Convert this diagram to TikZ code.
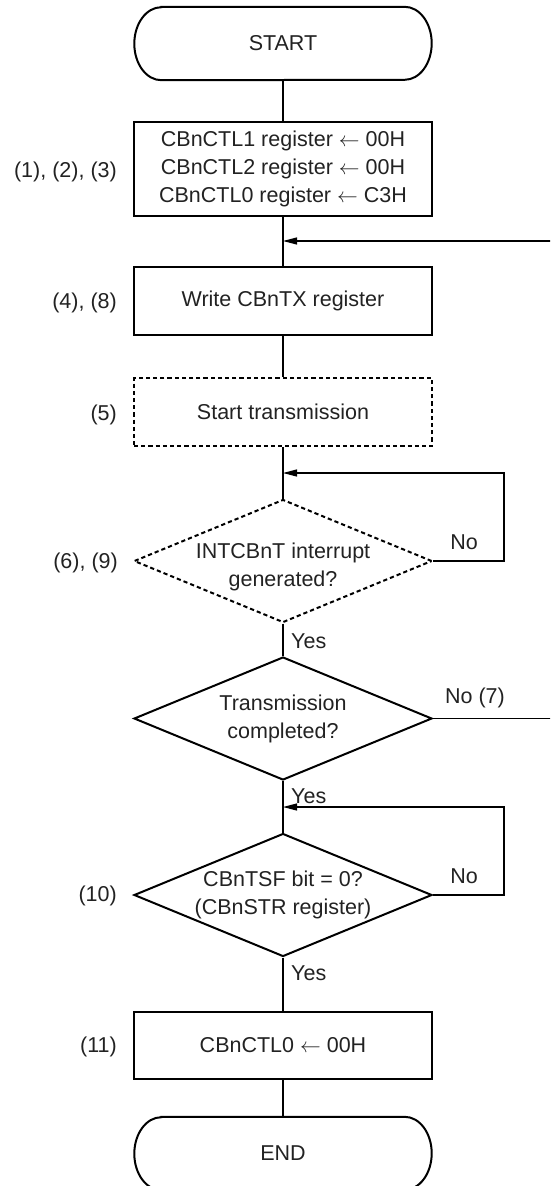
\documentclass[tikz,border=0pt]{standalone}
\usepackage{fontspec}
\setmainfont{Liberation Sans}
\usetikzlibrary{shapes.geometric,arrows.meta,calc}
\definecolor{ink}{HTML}{222222}
\begin{document}
\begin{tikzpicture}[x=1pt,y=-1pt,
  every node/.style={font=\fontsize{21.5}{28}\selectfont, text=ink},
  box/.style={draw=black, line width=2pt, rectangle, minimum width=298pt, minimum height=68pt, inner sep=0pt, align=center},
  dbox/.style={box, dash pattern=on 4.2pt off 3pt, line width=2pt},
  dec/.style={draw=black, diamond, line width=2pt, minimum width=298pt, minimum height=123pt, aspect=2.42, inner sep=0pt, align=center},
  ddec/.style={dec, dash pattern=on 4.2pt off 3pt, line width=2pt},
  term/.style={minimum width=297pt, minimum height=73pt, inner sep=0pt},
  termline/.style={line width=2pt},
  lab/.style={anchor=east, inner sep=0pt},
  yeslab/.style={anchor=west, inner sep=0pt},
  conn/.style={line width=1.2pt},
  arr/.style={conn, -{Triangle[length=14pt,width=7pt]}},
]
\useasboundingbox (0,0) rectangle (550,1186);
\clip (0,0) rectangle (550,1186);

% nodes
\node[term] (start) at (283,43.5) {START};
\node[box, minimum height=94pt] (b1) at (283,169) {CBnCTL1 register $\leftarrow$ 00H\\CBnCTL2 register $\leftarrow$ 00H\\CBnCTL0 register $\leftarrow$ C3H};
\node[box] (wr) at (283,301) {Write CBnTX register};
\node[dbox] (st) at (283,412) {Start transmission};
\node[ddec] (d1) at (283,561) {};
\node[align=center, inner sep=0pt] (d1t) at (283,567) {INTCBnT interrupt\\generated?};
\node[dec] (d2) at (283,718.5) {Transmission\\completed?};
\node[dec] (d3) at (283,895) {CBnTSF bit = 0?\\(CBnSTR register)};
\node[box, minimum height=67pt] (b11) at (283,1045.5) {CBnCTL0 $\leftarrow$ 00H};
\node[term] (end) at (283,1153.5) {END};

% terminal outlines
\draw[termline] ($(start.north west)+(27,0)$) -- ($(start.north east)+(-27,0)$)
  arc[start angle=90, end angle=-90, x radius=27pt, y radius=36.5pt]
  -- ($(start.south west)+(27,0)$)
  arc[start angle=270, end angle=90, x radius=27pt, y radius=36.5pt] -- cycle;
\draw[termline] ($(end.north west)+(27,0)$) -- ($(end.north east)+(-27,0)$)
  arc[start angle=90, end angle=-90, x radius=27pt, y radius=36.5pt]
  -- ($(end.south west)+(27,0)$)
  arc[start angle=270, end angle=90, x radius=27pt, y radius=36.5pt] -- cycle;

% step labels
\node[lab] (l1) at ($(b1.west)+(-16,3)$) {(1), (2), (3)};
\node[lab] (l2) at ($(wr.west)+(-16,2)$) {(4), (8)};
\node[lab] (l3) at ($(st.west)+(-16,3)$) {(5)};
\node[lab] (l4) at ($(d1.west)+(-15,2)$) {(6), (9)};
\node[lab] (l5) at ($(d3.west)+(-16,1)$) {(10)};
\node[lab] (l6) at ($(b11.west)+(-16,1)$) {(11)};

% junction points
\coordinate (j1) at (283,241);
\coordinate (j2) at (283,473);
\coordinate (j3) at (283,807);

% main flow
\draw[conn] (start) -- (b1);
\draw[conn] (b1) -- (wr);
\draw[conn] (wr) -- (st);
\draw[conn] (st) -- (d1);
\draw[conn] (d1) -- (d2);
\draw[conn] (d2) -- (d3);
\draw[conn] (d3) -- (b11);
\draw[conn] (b11) -- (end);

% loops
\draw[arr] (d1.east) -- ++(71,0) |- (j2);
\draw[arr] (d3.east) -- ++(71,0) |- (j3);
\draw[arr] (d2.east) -- ++(122,0) |- (j1);

% branch labels
\node (n1) at ($(d1.east)+(31,-19)$) {No};
\node (n2) at ($(d2.east)+(42,-21)$) {No (7)};
\node (n3) at ($(d3.east)+(31,-19)$) {No};
\node[yeslab] (y1) at ($(d1.south)+(8,18)$) {Yes};
\node[yeslab] (y2) at ($(d2.south)+(8,15)$) {Yes};
\node[yeslab] (y3) at ($(d3.south)+(8,16)$) {Yes};
\end{tikzpicture}
\end{document}
